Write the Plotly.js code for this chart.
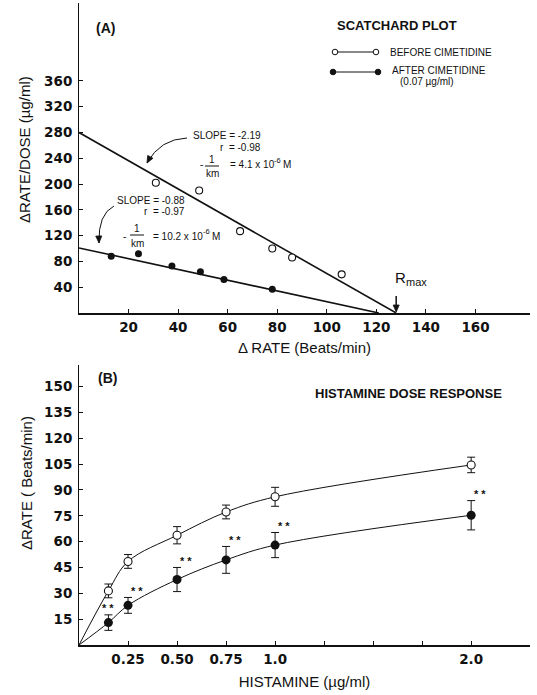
<!DOCTYPE html>
<html><head><meta charset="utf-8">
<script src="https://cdn.plot.ly/plotly-3.0.1.min.js"></script>
<style>html,body{margin:0;padding:0;background:#fff;} #chart{width:537px;height:695px;}</style>
</head><body><div id="chart"></div>
<script>
// ---------- Panel A: Scatchard plot ----------
const rateBefore  = [31, 48.5, 65, 78, 86, 106];
const ratioBefore = [202, 190, 127, 100, 86, 60];
const rateAfter   = [13, 24, 37.5, 49, 58.5, 78];
const ratioAfter  = [88, 92, 73, 64, 52, 37];
const fitBeforeX  = [0, 128];
const fitBeforeY  = [280, 0];
const fitAfterX   = [0, 121];
const fitAfterY   = [101, 0];
const rMax = 128;
const scatTickX = [20, 40, 60, 80, 100, 120, 140, 160];
const scatTickY = [40, 80, 120, 160, 200, 240, 280, 320, 360];

// ---------- Panel B: Histamine dose response ----------
const dose       = [0.15, 0.25, 0.5, 0.75, 1.0, 2.0];
const respBefore = [31.4, 48.5, 63.7, 77.2, 86, 104.5];
const errBefore  = [4, 4, 5, 4, 5.5, 4.5];
const respAfter  = [13, 23, 38, 49.4, 58, 75.3];
const errAfter   = [4.5, 4.6, 7, 7.8, 7.3, 8.5];
const curveStart = [0];            // both curves start at the origin
const doseTickVals = [0.25, 0.5, 0.75, 1.0, 2.0];
const doseTickText = ['0.25', '0.50', '0.75', '1.0', '2.0'];
const doseMinorTicks = [1.25, 1.5, 1.75];
const respTick = [15, 30, 45, 60, 75, 90, 105, 120, 135, 150];

const W = 537, H = 695;
const px = x => x / W;
const py = y => 1 - y / H;
const FONT = 'Liberation Sans, Arial, sans-serif';
const TICKFONT = 'DejaVu Sans, sans-serif';
const blk = '#111';

// pixel geometry of panel A x axis (for the Rmax arrow)
const A_X0 = 79, A_X1 = 530, A_XMAX = 182, A_Y0 = 313;

const traces = [
  {x: fitBeforeX, y: fitBeforeY, xaxis: 'x', yaxis: 'y', mode: 'lines', line: {color: blk, width: 1.6}, hoverinfo: 'skip'},
  {x: fitAfterX, y: fitAfterY, xaxis: 'x', yaxis: 'y', mode: 'lines', line: {color: blk, width: 1.6}, hoverinfo: 'skip'},
  {x: rateBefore, y: ratioBefore, xaxis: 'x', yaxis: 'y', mode: 'markers', name: 'Before cimetidine',
   marker: {symbol: 'circle', size: 7, color: '#fff', line: {width: 1.1, color: blk}}},
  {x: rateAfter, y: ratioAfter, xaxis: 'x', yaxis: 'y', mode: 'markers', name: 'After cimetidine',
   marker: {symbol: 'circle', size: 7, color: blk}},
  {x: curveStart.concat(dose), y: curveStart.concat(respBefore), xaxis: 'x2', yaxis: 'y2', mode: 'lines',
   line: {color: blk, width: 1, shape: 'spline', smoothing: 1}, hoverinfo: 'skip'},
  {x: curveStart.concat(dose), y: curveStart.concat(respAfter), xaxis: 'x2', yaxis: 'y2', mode: 'lines',
   line: {color: blk, width: 1, shape: 'spline', smoothing: 1}, hoverinfo: 'skip'},
  {x: dose, y: respBefore, xaxis: 'x2', yaxis: 'y2', mode: 'markers',
   error_y: {type: 'data', array: errBefore, visible: true, color: blk, thickness: 1, width: 4},
   marker: {symbol: 'circle', size: 8, color: '#fff', line: {width: 1.1, color: blk}}},
  {x: dose, y: respAfter, xaxis: 'x2', yaxis: 'y2', mode: 'markers',
   error_y: {type: 'data', array: errAfter, visible: true, color: blk, thickness: 1, width: 4},
   marker: {symbol: 'circle', size: 9, color: blk}}
];

const axBase = {showgrid: false, zeroline: false, showline: true, linecolor: blk, ticks: 'inside',
  ticklen: 4, tickcolor: blk, tickfont: {family: TICKFONT, size: 13.5, color: blk, weight: 'bold'}, fixedrange: true};

const annotations = [];
const shapes = [];
function txt(x, y, text, opts) {
  annotations.push(Object.assign({xref: 'paper', yref: 'paper', x: px(x), y: py(y), text: text,
    showarrow: false, font: {family: FONT, size: 10, color: blk}, xanchor: 'left', yanchor: 'middle'}, opts || {}));
}
function line(x0, y0, x1, y1, w) {
  shapes.push({type: 'line', xref: 'paper', yref: 'paper', x0: px(x0), x1: px(x1), y0: py(y0), y1: py(y1),
    line: {color: blk, width: w || 1}});
}
function head(x, y, dx, dy, len, half) {
  const L = Math.hypot(dx, dy), ux = dx / L, uy = dy / L;
  const bx = x - ux * len, by = y - uy * len;
  const p1 = [bx - uy * half, by + ux * half], p2 = [bx + uy * half, by - ux * half];
  shapes.push({type: 'path', xref: 'paper', yref: 'paper', fillcolor: blk, line: {color: blk, width: 0.8},
    path: `M ${px(x)} ${py(y)} L ${px(p1[0])} ${py(p1[1])} L ${px(p2[0])} ${py(p2[1])} Z`});
}

// panel labels / titles
txt(94, 28, '(A)', {font: {family: FONT, size: 14, color: blk, weight: 'bold'}});
txt(96, 378, '(B)', {font: {family: FONT, size: 14, color: blk, weight: 'bold'}});
txt(335, 25, 'SCATCHARD PLOT', {font: {family: FONT, size: 13, color: blk, weight: 'bold'}});
txt(408, 393, 'HISTAMINE DOSE RESPONSE', {xanchor: 'center', font: {family: FONT, size: 13, color: blk, weight: 'bold'}});
// y titles
txt(24, 150, 'ΔRATE/DOSE (µg/ml)', {xanchor: 'center', textangle: -90, font: {family: FONT, size: 15, color: blk}});
txt(26, 483, 'ΔRATE ( Beats/min)', {xanchor: 'center', textangle: -90, font: {family: FONT, size: 15, color: blk}});

// legend (A)
txt(388, 52, 'BEFORE CIMETIDINE', {font: {family: FONT, size: 10, color: blk}});
txt(390, 71, 'AFTER CIMETIDINE', {font: {family: FONT, size: 10, color: blk}});
txt(398, 82, '(0.07 µg/ml)', {font: {family: FONT, size: 10, color: blk}});
line(335, 52, 376, 52);
line(333, 72, 378, 72);
[[335, 52, false], [376, 52, false], [333, 72, true], [378, 72, true]].forEach(([cx, cy, f]) => {
  shapes.push({type: 'circle', xref: 'paper', yref: 'paper', xsizemode: 'pixel', ysizemode: 'pixel',
    xanchor: px(cx), yanchor: py(cy), x0: -2.8, x1: 2.8, y0: -2.8, y1: 2.8,
    fillcolor: f ? blk : '#fff', line: {color: blk, width: 1}});
});

// Scatchard annotations, group 1
txt(263, 135, 'SLOPE = -2.19', {xanchor: 'right'});
txt(263, 148, 'r  = -0.98', {xanchor: 'right'});
txt(201, 165, '-', {xanchor: 'center'});
txt(212, 159, '1', {xanchor: 'center'});
txt(212, 174, 'km', {xanchor: 'center'});
line(205, 166, 219, 166);
txt(228, 165, '= 4.1 x 10', {xanchor: 'left'});
txt(272, 160, '-6', {font: {family: FONT, size: 7.5, color: blk}});
txt(281, 165, 'M');
// group 2
txt(187, 200, 'SLOPE = -0.88', {xanchor: 'right'});
txt(187, 212, 'r  = -0.97', {xanchor: 'right'});
txt(124, 237, '-', {xanchor: 'center'});
txt(137, 228, '1', {xanchor: 'center'});
txt(137, 243, 'km', {xanchor: 'center'});
line(130, 235, 144, 235);
txt(151, 236, '= 10.2 x 10');
txt(200.5, 231, '-6', {font: {family: FONT, size: 7.5, color: blk}});
txt(209.5, 236, 'M');
// curved arrows
function curve(x0, y0, cx, cy, x1, y1) {
  shapes.push({type: 'path', xref: 'paper', yref: 'paper',
    path: `M ${px(x0)} ${py(y0)} Q ${px(cx)} ${py(cy)} ${px(x1)} ${py(y1)}`, line: {color: blk, width: 1}});
  head(x1, y1, x1 - cx, y1 - cy, 7, 3);
}
curve(187, 138, 160, 139, 147, 163);
curve(114, 206, 98, 214, 99, 243);

// Rmax arrow, placed from the rMax value through the axis mapping
const rx = A_X0 + rMax / A_XMAX * (A_X1 - A_X0);
line(rx, A_Y0 - 17, rx, A_Y0 - 5, 1.5);
head(rx, A_Y0 - 1, 0, 1, 7, 3);
txt(rx - 3, 277, 'R', {font: {family: FONT, size: 15, color: blk}});
txt(rx + 8, 282, 'max', {font: {family: FONT, size: 11, color: blk}});

// significance marks (B)
dose.forEach((d, i) => {
  annotations.push({xref: 'x2', yref: 'y2', x: d + (i === 0 ? 0 : 0.045), y: respAfter[i] + errAfter[i] + 4,
    text: '* *', showarrow: false, font: {family: FONT, size: 11, color: blk, weight: 'bold'}, yanchor: 'middle'});
});

const layout = {
  width: W, height: H, margin: {l: 0, r: 0, t: 0, b: 0},
  paper_bgcolor: '#fff', plot_bgcolor: '#fff', showlegend: false,
  xaxis: Object.assign({}, axBase, {domain: [px(A_X0), px(A_X1)], range: [0, A_XMAX], anchor: 'y',
    tickvals: scatTickX, linewidth: 1.8, ticklabelstandoff: 1,
    title: {text: 'Δ RATE (Beats/min)', standoff: 8, font: {family: FONT, size: 15, color: blk}}}),
  yaxis: Object.assign({}, axBase, {domain: [py(A_Y0), py(3)], range: [0, 481], anchor: 'x',
    tickvals: scatTickY, linewidth: 1, ticklabelstandoff: 3}),
  xaxis2: Object.assign({}, axBase, {domain: [px(A_X0), px(A_X1)], range: [0, 2.3], anchor: 'y2',
    tickvals: doseTickVals, ticktext: doseTickText, linewidth: 1.8, ticklabelstandoff: 1,
    minor: {tickvals: doseMinorTicks, ticks: 'inside', ticklen: 4, tickcolor: blk, showgrid: false},
    title: {text: 'HISTAMINE (µg/ml)', standoff: 10, font: {family: FONT, size: 15, color: blk}}}),
  yaxis2: Object.assign({}, axBase, {domain: [py(645), py(365)], range: [0, 162.5], anchor: 'x2',
    tickvals: respTick, linewidth: 1, ticklabelstandoff: 3}),
  annotations: annotations, shapes: shapes
};

Plotly.newPlot('chart', traces, layout, {staticPlot: true, displayModeBar: false});
</script>
</body></html>
